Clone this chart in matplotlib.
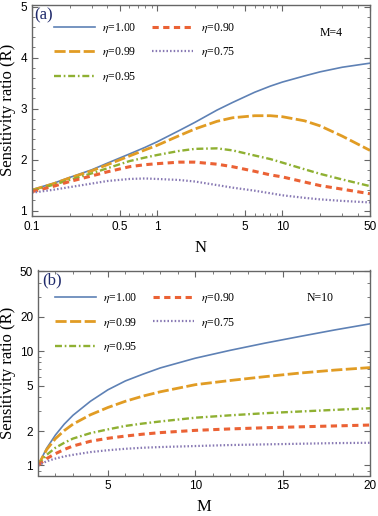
import matplotlib
matplotlib.use('Agg')
import matplotlib.pyplot as plt
from matplotlib.ticker import FixedLocator, NullFormatter, FixedFormatter

plt.rcParams['font.family'] = ['Liberation Serif', 'DejaVu Serif']
plt.rcParams['mathtext.fontset'] = 'stix'
plt.rcParams['lines.scale_dashes'] = False

# ---- data ----
labels = [r'$\eta$=1.00', r'$\eta$=0.99', r'$\eta$=0.95', r'$\eta$=0.90', r'$\eta$=0.75']
colors = ['#5E81B5', '#E19C24', '#8FB032', '#EB6235', '#8778B3']

# panel (a): R vs N at M=4
n_vals = [0.1, 0.15, 0.2, 0.3, 0.4, 0.6, 0.8, 1, 1.5, 2, 3, 4, 6, 8, 10, 15, 20, 30, 50]
ra_100 = [1.41, 1.54, 1.65, 1.80, 1.93, 2.11, 2.24, 2.35, 2.57, 2.73, 2.97, 3.12, 3.32, 3.44, 3.52, 3.64, 3.72, 3.81, 3.89]
ra_099 = [1.40, 1.53, 1.64, 1.78, 1.90, 2.07, 2.19, 2.28, 2.47, 2.60, 2.75, 2.82, 2.86, 2.86, 2.84, 2.76, 2.66, 2.46, 2.18]
ra_095 = [1.39, 1.51, 1.60, 1.73, 1.83, 1.97, 2.04, 2.09, 2.17, 2.21, 2.22, 2.18, 2.08, 2.01, 1.94, 1.81, 1.72, 1.61, 1.48]
ra_090 = [1.37, 1.48, 1.57, 1.68, 1.76, 1.86, 1.90, 1.92, 1.95, 1.95, 1.91, 1.86, 1.77, 1.70, 1.66, 1.56, 1.49, 1.42, 1.33]
ra_075 = [1.35, 1.41, 1.46, 1.53, 1.58, 1.62, 1.63, 1.62, 1.60, 1.57, 1.50, 1.45, 1.39, 1.34, 1.30, 1.25, 1.22, 1.19, 1.16]

# panel (b): R vs M at N=10
m_vals = [1, 1.5, 2, 2.5, 3, 4, 5, 6, 7, 8, 10, 12, 14, 16, 18, 20]
rb_100 = [1.0, 1.42, 1.85, 2.3, 2.75, 3.65, 4.6, 5.5, 6.3, 7.15, 8.7, 10.2, 11.8, 13.5, 15.4, 17.4]
rb_099 = [1.0, 1.38, 1.72, 2.02, 2.3, 2.78, 3.22, 3.65, 4.05, 4.42, 5.1, 5.55, 6.0, 6.45, 6.85, 7.2]
rb_095 = [1.0, 1.24, 1.43, 1.58, 1.72, 1.92, 2.07, 2.22, 2.33, 2.43, 2.62, 2.75, 2.87, 2.97, 3.07, 3.17]
rb_090 = [1.0, 1.15, 1.27, 1.38, 1.48, 1.63, 1.73, 1.81, 1.88, 1.94, 2.03, 2.09, 2.14, 2.18, 2.22, 2.26]
rb_075 = [1.0, 1.09, 1.15, 1.20, 1.24, 1.31, 1.36, 1.40, 1.43, 1.45, 1.48, 1.51, 1.53, 1.55, 1.57, 1.58]

styles = [
    dict(lw=1.2, ls='-'),
    dict(lw=2.0, dashes=(8, 2.5)),
    dict(lw=1.7, dashes=(5, 2, 1.2, 2)),
    dict(lw=2.2, dashes=(4.5, 3.2)),
    dict(lw=1.6, dashes=(1.1, 1.5)),
]

frame_col = '#666666'


def style_axes(ax):
    for sp in ax.spines.values():
        sp.set_color(frame_col)
        sp.set_linewidth(1.0)
    ax.tick_params(which='both', direction='in', top=True, right=True,
                   color=frame_col, labelsize=8.5)
    ax.tick_params(which='major', length=4, width=0.8, pad=3.5)
    ax.tick_params(which='minor', length=2.2, width=0.6)
    for lab in ax.get_xticklabels() + ax.get_yticklabels():
        lab.set_family(['Liberation Sans', 'DejaVu Sans'])
    ax.set_ylabel('Sensitivity ratio (R)', fontsize=12, labelpad=3)


def add_legend(ax, handles, x0, y0):
    ax.legend(handles, labels, loc='upper left', bbox_to_anchor=(x0, y0),
              ncol=2, frameon=False, fontsize=8.5, borderpad=0, borderaxespad=0,
              handlelength=3.5, handletextpad=0.6, columnspacing=1.3,
              labelspacing=0.9)


fig = plt.figure(figsize=(3.78, 5.16), dpi=100)

# ---- panel (a) ----
ax1 = fig.add_axes([32 / 378, 1 - 215.7 / 516, 338 / 378, 210.7 / 516])
series_a = [ra_100, ra_099, ra_095, ra_090, ra_075]
h1 = []
for ys, c, st in zip(series_a, colors, styles):
    line, = ax1.plot(n_vals, ys, color=c, **st)
    h1.append(line)
ax1.set_xscale('log')
ax1.set_xlim(0.1, 50)
ax1.set_ylim(0.9, 5.03)
ax1.xaxis.set_major_locator(FixedLocator([0.1, 0.5, 1, 5, 10, 50]))
ax1.xaxis.set_major_formatter(FixedFormatter(['0.1', '0.5', '1', '5', '10', '50']))
ax1.xaxis.set_minor_locator(FixedLocator([0.2, 0.3, 0.4, 0.6, 0.7, 0.8, 0.9,
                                          2, 3, 4, 6, 7, 8, 9, 20, 30, 40]))
ax1.xaxis.set_minor_formatter(NullFormatter())
ax1.yaxis.set_major_locator(FixedLocator([1, 2, 3, 4, 5]))
ax1.yaxis.set_minor_locator(FixedLocator([1.2, 1.4, 1.6, 1.8, 2.2, 2.4, 2.6, 2.8,
                                          3.2, 3.4, 3.6, 3.8, 4.2, 4.4, 4.6, 4.8]))
style_axes(ax1)
ax1.set_xlabel('N', fontsize=12, labelpad=5)
add_legend(ax1, h1, 0.065, 0.925)
ax1.text(0.008, 0.99, '(a)', transform=ax1.transAxes, fontsize=12,
         color='#1f2a6b', ha='left', va='top')
ax1.text(0.885, 0.865, 'M=4', transform=ax1.transAxes, fontsize=8.5,
         ha='center', va='center')

# ---- panel (b) ----
ax2 = fig.add_axes([38 / 378, 1 - 475.5 / 516, 332 / 378, 205 / 516])
series_b = [rb_100, rb_099, rb_095, rb_090, rb_075]
h2 = []
for ys, c, st in zip(series_b, colors, styles):
    line, = ax2.plot(m_vals, ys, color=c, **st)
    h2.append(line)
ax2.set_yscale('log')
ax2.set_xlim(1, 20)
ax2.set_ylim(0.817, 51)
ax2.xaxis.set_major_locator(FixedLocator([5, 10, 15, 20]))
ax2.xaxis.set_minor_locator(FixedLocator([m for m in range(2, 20) if m % 5]))
ax2.yaxis.set_major_locator(FixedLocator([1, 2, 5, 10, 20, 50]))
ax2.yaxis.set_major_formatter(FixedFormatter(['1', '2', '5', '10', '20', '50']))
ax2.yaxis.set_minor_locator(FixedLocator([0.9, 3, 4, 6, 7, 8, 9, 30, 40]))
ax2.yaxis.set_minor_formatter(NullFormatter())
style_axes(ax2)
ax2.set_xlabel('M', fontsize=12, labelpad=5)
add_legend(ax2, h2, 0.051, 0.9)
ax2.text(0.012, 0.99, '(b)', transform=ax2.transAxes, fontsize=12,
         color='#1f2a6b', ha='left', va='top')
ax2.text(0.85, 0.865, 'N=10', transform=ax2.transAxes, fontsize=8.5,
         ha='center', va='center')

fig.savefig('out.png', dpi=100)
